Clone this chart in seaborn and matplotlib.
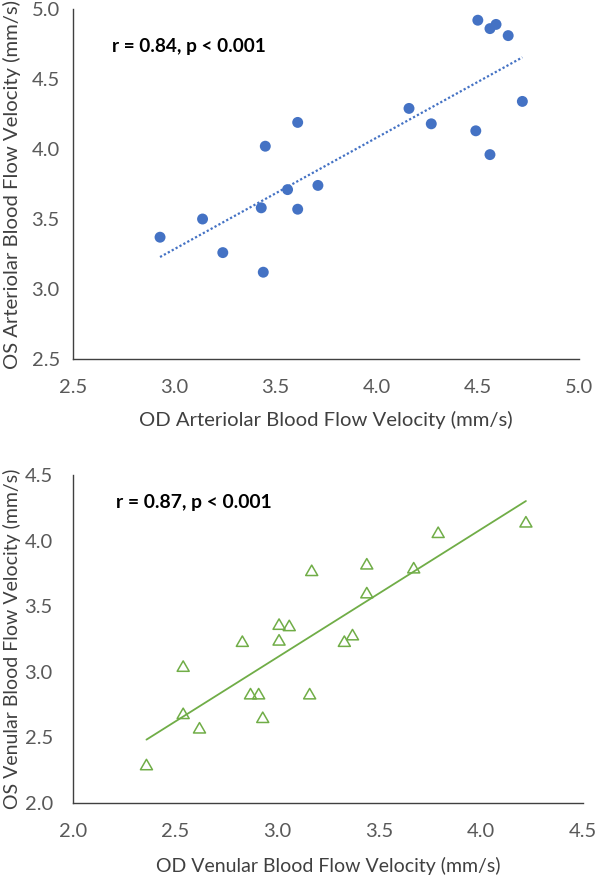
"""Inter-eye correlation of arteriolar and venular blood flow velocity."""

import matplotlib
matplotlib.use("Agg")
import matplotlib.pyplot as plt
import numpy as np
import pandas as pd
import seaborn as sns
from matplotlib.path import Path
from matplotlib.ticker import FormatStrFormatter

# Arteriolar velocities (mm/s), OD vs OS
art_od = [4.50, 4.56, 4.59, 4.65, 4.72, 4.16, 4.27, 4.49, 4.56, 3.61,
          3.45, 3.71, 3.56, 3.43, 3.61, 3.14, 2.93, 3.24, 3.44]
art_os = [4.92, 4.86, 4.89, 4.81, 4.34, 4.29, 4.18, 4.13, 3.96, 4.19,
          4.02, 3.74, 3.71, 3.58, 3.57, 3.50, 3.37, 3.26, 3.12]

# Venular velocities (mm/s), OD vs OS
ven_od = [2.36, 2.54, 2.54, 2.62, 2.83, 2.87, 2.91, 2.93, 3.01, 3.01,
          3.06, 3.17, 3.16, 3.33, 3.37, 3.44, 3.44, 3.67, 3.79, 4.22]
ven_os = [2.28, 3.03, 2.67, 2.56, 3.22, 2.82, 2.82, 2.64, 3.35, 3.23,
          3.34, 3.76, 2.82, 3.22, 3.27, 3.81, 3.59, 3.78, 4.05, 4.13]

BLUE = "#4472C4"
GREEN = "#70AD47"
TICK_GRAY = "#595959"
LABEL_GRAY = "#404040"
AXIS_GRAY = "#404040"

sns.set_theme(style="white")
plt.rcParams["font.family"] = ["Lato", "DejaVu Sans"]

fig = plt.figure(figsize=(5.97, 8.75), dpi=100)
ax1 = fig.add_axes([0.1223, 0.5897, 0.8476, 0.400])
ax2 = fig.add_axes([0.1223, 0.0823, 0.8543, 0.3749])

art = pd.DataFrame({"od": art_od, "os": art_os})
ven = pd.DataFrame({"od": ven_od, "os": ven_os})

# equilateral open triangle, like the spreadsheet marker
tri = Path([(0, 1.155), (-1, -0.577), (1, -0.577), (0, 1.155)], closed=True)

# top panel: arterioles
sns.regplot(data=art, x="od", y="os", ax=ax1, scatter=False, ci=None,
            line_kws={"color": BLUE, "linestyle": (0, (1, 1)), "linewidth": 1.6})
sns.scatterplot(data=art, x="od", y="os", ax=ax1, color=BLUE, s=62,
                edgecolor="none", zorder=3)
ax1.set_xlim(2.5, 5.0)
ax1.set_ylim(2.5, 5.0)
ax1.set_xticks(np.arange(2.5, 5.01, 0.5))
ax1.set_yticks(np.arange(2.5, 5.01, 0.5))
ax1.set_xlabel("OD Arteriolar Blood Flow Velocity (mm/s)", fontsize=14.6)
ax1.set_ylabel("OS Arteriolar Blood Flow Velocity (mm/s)", fontsize=14.6)
ax1.text(0.077, 0.894, "r = 0.84, p < 0.001", transform=ax1.transAxes,
         fontsize=13.7, fontweight="bold", color="black", va="center")

# bottom panel: venules
sns.regplot(data=ven, x="od", y="os", ax=ax2, scatter=False, ci=None,
            line_kws={"color": GREEN, "linewidth": 1.3})
sns.scatterplot(data=ven, x="od", y="os", ax=ax2, marker=tri, s=100,
                facecolor="none", edgecolor=GREEN, linewidth=1.1, zorder=3)
ax2.set_xlim(2.0, 4.5)
ax2.set_ylim(2.0, 4.5)
ax2.set_xticks(np.arange(2.0, 4.51, 0.5))
ax2.set_yticks(np.arange(2.0, 4.51, 0.5))
ax2.set_xlabel("OD Venular Blood Flow Velocity (mm/s)", fontsize=14)
ax2.set_ylabel("OS Venular Blood Flow Velocity (mm/s)", fontsize=14)
ax2.text(0.084, 0.915, "r = 0.87, p < 0.001", transform=ax2.transAxes,
         fontsize=13.9, fontweight="bold", color="black", va="center")

for ax in (ax1, ax2):
    sns.despine(ax=ax)
    for side in ("left", "bottom"):
        ax.spines[side].set_color(AXIS_GRAY)
        ax.spines[side].set_linewidth(1.0)
    ax.tick_params(axis="both", which="major", direction="out", length=4.5,
                   width=1.0, color=AXIS_GRAY, labelcolor=TICK_GRAY,
                   labelsize=14.5)
    ax.tick_params(axis="x", pad=10)
    ax.xaxis.label.set_color(LABEL_GRAY)
    ax.yaxis.label.set_color(LABEL_GRAY)
    ax.xaxis.set_major_formatter(FormatStrFormatter("%.1f"))
    ax.yaxis.set_major_formatter(FormatStrFormatter("%.1f"))

ax1.tick_params(axis="y", pad=5)
ax2.tick_params(axis="y", pad=10)

# label placement (axes fractions)
ax1.xaxis.set_label_coords(0.5, -0.149)
ax1.yaxis.set_label_coords(-0.103, 0.5)
ax2.xaxis.set_label_coords(0.5, -0.165)
ax2.yaxis.set_label_coords(-0.102, 0.5)

fig.savefig("out.png", dpi=100)
